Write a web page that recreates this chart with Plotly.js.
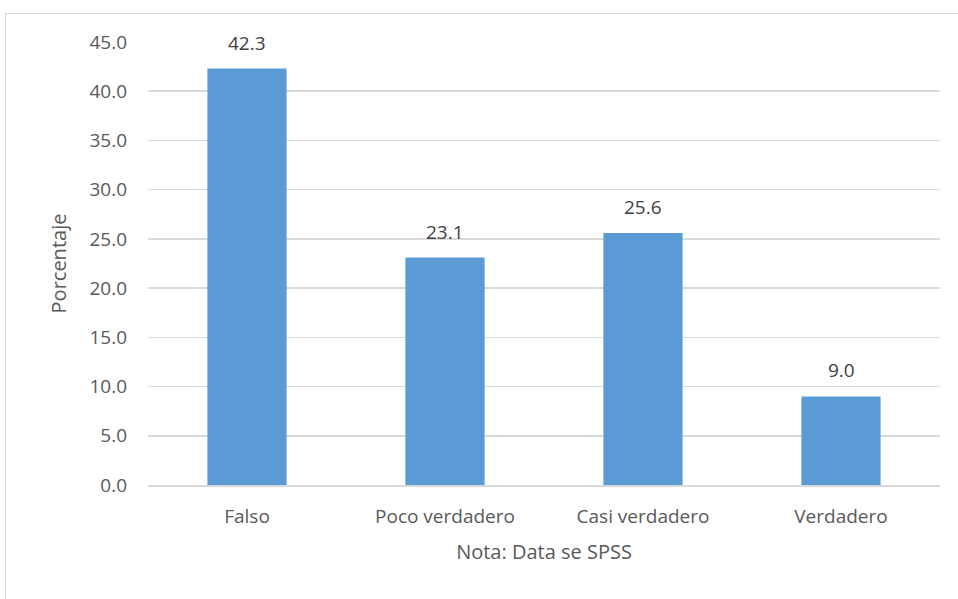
<!DOCTYPE html>
<html>
<head>
<meta charset="utf-8">
<script src="https://cdn.plot.ly/plotly-3.0.1.min.js"></script>
<style>
html,body{margin:0;padding:0;background:#fff;overflow:hidden;}
#chart{width:958px;height:599px;}
#frame{position:absolute;left:5px;top:13px;width:970px;height:620px;border:1px solid #d9d9d9;pointer-events:none;}
</style>
</head>
<body>
<div id="chart"></div>
<div id="frame"></div>
<script>
const categories = ["Falso", "Poco verdadero", "Casi verdadero", "Verdadero"];
const values = [42.3, 23.1, 25.6, 9.0];
const yTickVals = [0, 5, 10, 15, 20, 25, 30, 35, 40, 45];
const yTickText = ["0.0", "5.0", "10.0", "15.0", "20.0", "25.0", "30.0", "35.0", "40.0", "45.0"];
const yTitle = "Porcentaje";
const xTitle = "Nota: Data se SPSS";

const fontFam = "Open Sans, Carlito, Liberation Sans, sans-serif";
const textColor = "#595959";

const trace = {
  type: "bar",
  x: categories,
  y: values,
  marker: {color: "#5b9bd5"},
  hoverinfo: "none"
};

const annotations = categories.map((c, i) => ({
  x: c,
  y: values[i],
  xref: "x",
  yref: "y",
  text: values[i].toFixed(1),
  showarrow: false,
  yanchor: "bottom",
  yshift: 11,
  font: {family: fontFam, size: 19, color: "#404040"}
}));

const layout = {
  width: 958,
  height: 599,
  margin: {l: 148, r: 18, t: 42, b: 114},
  paper_bgcolor: "#ffffff",
  plot_bgcolor: "#ffffff",
  bargap: 0.6,
  showlegend: false,
  font: {family: fontFam, color: textColor, size: 19},
  annotations: annotations,
  xaxis: {
    type: "category",
    showgrid: false,
    showline: true,
    linecolor: "#d9d9d9",
    linewidth: 1.5,
    ticks: "",
    ticklabelstandoff: 14,
    tickfont: {family: fontFam, size: 19, color: textColor},
    title: {text: xTitle, font: {family: fontFam, size: 20, color: textColor}, standoff: 16}
  },
  yaxis: {
    range: [0, 45],
    tickvals: yTickVals,
    ticktext: yTickText,
    showgrid: true,
    gridcolor: "#d9d9d9",
    gridwidth: 1.5,
    zeroline: false,
    showline: false,
    ticks: "",
    ticklabelstandoff: 20,
    tickfont: {family: fontFam, size: 19, color: textColor},
    title: {text: yTitle, font: {family: fontFam, size: 20, color: textColor}, standoff: 17}
  }
};

Plotly.newPlot("chart", [trace], layout, {displayModeBar: false, staticPlot: true});
</script>
</body>
</html>
